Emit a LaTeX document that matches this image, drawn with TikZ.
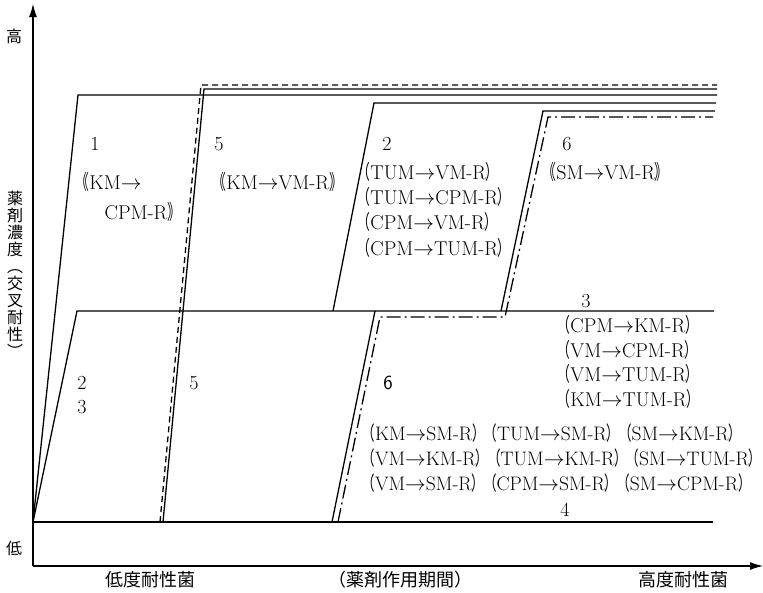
\documentclass[tikz,border=0pt]{standalone}
\usepackage{fontspec}
\usepackage{graphicx}
\newfontfamily\cjk{Noto Sans CJK JP}
\usetikzlibrary{arrows.meta}
\newcommand\lp{\scalebox{0.64}[1]{\cjk （}}
\newcommand\rp{\scalebox{0.64}[1]{\cjk ）}}
\newcommand\wlp{\scalebox{0.64}[1]{\cjk ｟}}
\newcommand\wrp{\scalebox{0.64}[1]{\cjk ｠}}
\newcommand\ra{\ensuremath{\rightarrow}}
\begin{document}
\begin{tikzpicture}[x=1pt, y=-1pt, line width=1.3pt,
  font=\fontsize{20}{25}\selectfont,
  axis/.style={line width=1.1pt, -{Latex[length=13pt, width=8pt]}},
  dashdot/.style={dash pattern=on 14pt off 4pt on 2pt off 4pt},
  lbl/.style={anchor=base west, inner sep=0pt},
  num/.style={anchor=base, inner sep=0pt},
  jp/.style={inner sep=0pt, font=\cjk\fontsize{18}{18}\selectfont}]
  \useasboundingbox (0,0) rectangle (763,592);
  % axes
  \coordinate (o) at (33,566);
  \draw[axis] (o) -- (33,4);
  \draw[axis] (o) -- (763,566);
  \node[jp, font=\cjk\fontsize{16}{16}\selectfont] (hi) at (14,36) {高};
  \node[jp, font=\cjk\fontsize{16}{16}\selectfont] (lo) at (14,548) {低};
  \node[jp, align=center, font=\cjk\fontsize{16}{17}\selectfont] (yl) at (15,274)
    {薬\\剤\\濃\\度\\︵\\交\\叉\\耐\\性\\︶};
  \node[jp] (xl1) at (150,580) {低度耐性菌};
  \node[jp] (xl2) at (400,580) {（薬剤作用期間）};
  \node[jp] (xl3) at (683,580) {高度耐性菌};
  % curves
  \draw (33,522) -- (713,522);
  \draw (33,522) -- (78,95) -- (717,95);
  \draw (33,522) -- (77,311) -- (714,311);
  \draw (163,522) -- (204,89) -- (717,89);
  \draw[dashed, dash pattern=on 6pt off 4pt] (160,522) -- (201,85) -- (717,85);
  \draw (333,311) -- (374,103) -- (716,103);
  \draw (332,522) -- (375,311);
  \draw (501,311) -- (543,111) -- (715,111);
  \draw[dashdot] (338,522) -- (380,317) -- (505,317) -- (548,117) -- (713,117);
  % upper labels
  \node[num] (n1) at (95,150) {1};
  \node[lbl] (r1a) at (76,189) {\wlp KM\ra};
  \node[lbl] (r1b) at (104,219) {CPM-R\wrp};
  \node[num] (n5) at (219,150) {5};
  \node[lbl] (r5) at (213,189) {\wlp KM\ra VM-R\wrp};
  \node[num] (n2) at (387,150) {2};
  \node[lbl] (r2a) at (357,179) {\lp TUM\ra VM-R\rp};
  \node[lbl] (r2b) at (357,204) {\lp TUM\ra CPM-R\rp};
  \node[lbl] (r2c) at (357,229) {\lp CPM\ra VM-R\rp};
  \node[lbl] (r2d) at (357,255) {\lp CPM\ra TUM-R\rp};
  \node[num] (n6) at (567,150) {6};
  \node[lbl] (r6) at (543,179) {\wlp SM\ra VM-R\wrp};
  % lower labels
  \node[num] (m2) at (82,389) {2};
  \node[num] (m3) at (82,413) {3};
  \node[num] (m5) at (194,389) {5};
  \node[num, font=\fontsize{20}{25}\sffamily] (m6) at (388,389) {6};
  \node[num] (m3b) at (586,307) {3};
  \node[lbl] (s3a) at (557,332) {\lp CPM\ra KM-R\rp};
  \node[lbl] (s3b) at (557,357) {\lp VM\ra CPM-R\rp};
  \node[lbl] (s3c) at (557,381) {\lp VM\ra TUM-R\rp};
  \node[lbl] (s3d) at (557,406) {\lp KM\ra TUM-R\rp};
  \begin{scope}[font=\fontsize{19.5}{25}\selectfont]
  \node[lbl] (s6a) at (362,440) {\lp KM\ra SM-R\rp\lp TUM\ra SM-R\rp\lp SM\ra KM-R\rp};
  \node[lbl] (s6b) at (362,465) {\lp VM\ra KM-R\rp\lp TUM\ra KM-R\rp\lp SM\ra TUM-R\rp};
  \node[lbl] (s6c) at (362,490) {\lp VM\ra SM-R\rp\lp CPM\ra SM-R\rp\lp SM\ra CPM-R\rp};
  \end{scope}
  \node[num] (m4) at (565,516) {4};
\end{tikzpicture}
\end{document}
